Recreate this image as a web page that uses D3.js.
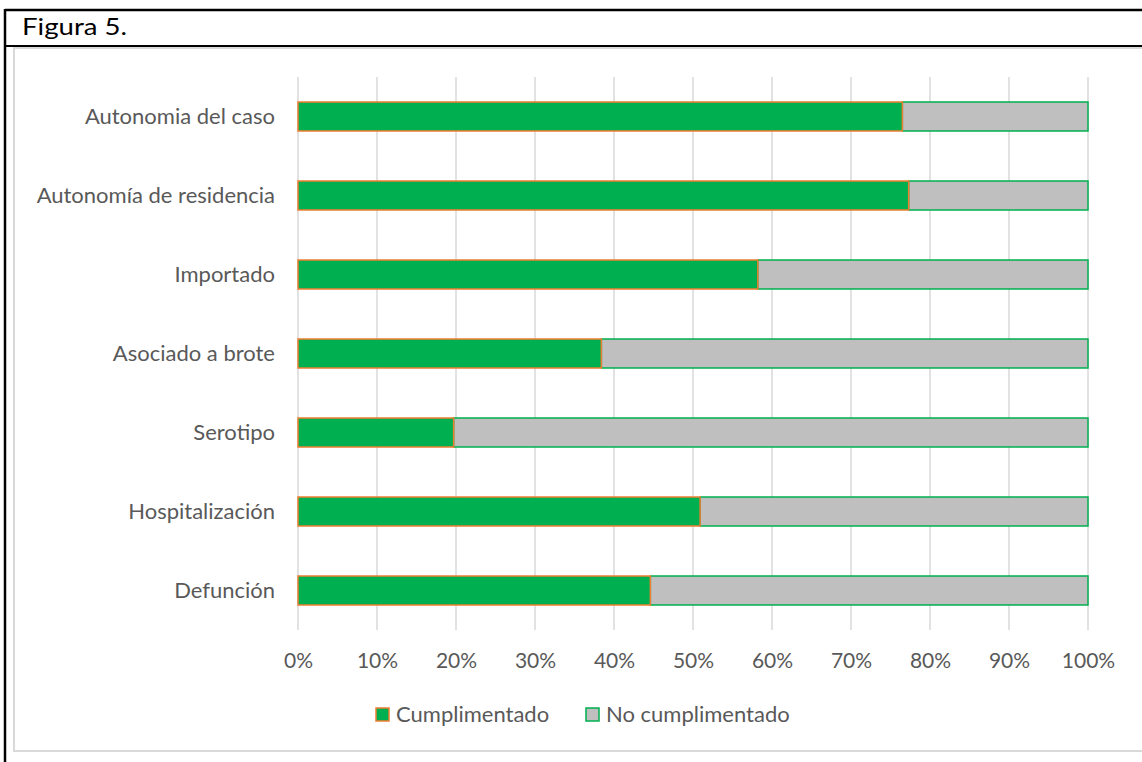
<!DOCTYPE html>
<html>
<head>
<meta charset="utf-8">
<script src="https://cdn.jsdelivr.net/npm/d3@7"></script>
<style>
  html, body { margin: 0; padding: 0; background: #fff; }
  svg { display: block; }
</style>
</head>
<body>
<svg id="chart" width="1142" height="762"></svg>
<script>
// Completeness of case-report variables (share of records filled in)
const categories = [
  "Autonomia del caso",
  "Autonomía de residencia",
  "Importado",
  "Asociado a brote",
  "Serotipo",
  "Hospitalización",
  "Defunción"
];
const cumplimentado = [76.5, 77.3, 58.2, 38.4, 19.7, 50.9, 44.6];
const noCumplimentado = cumplimentado.map(v => 100 - v);
const tickValues = [0, 10, 20, 30, 40, 50, 60, 70, 80, 90, 100];
const seriesNames = ["Cumplimentado", "No cumplimentado"];

const FONT = "Lato, 'Noto Sans', sans-serif";
const svg = d3.select("#chart");

// Frame: black outline with a header row, light gray chart area
svg.append("rect").attr("x", 14).attr("y", 48).attr("width", 1140).attr("height", 703)
  .attr("fill", "#fff").attr("stroke", "#D9D9D9").attr("stroke-width", 2);
svg.append("line").attr("x1", 5).attr("x2", 1142).attr("y1", 10).attr("y2", 10)
  .attr("stroke", "#000").attr("stroke-width", 2.5);
svg.append("line").attr("x1", 5).attr("x2", 1142).attr("y1", 46).attr("y2", 46)
  .attr("stroke", "#000").attr("stroke-width", 2);
svg.append("line").attr("x1", 5).attr("x2", 5).attr("y1", 9).attr("y2", 762)
  .attr("stroke", "#000").attr("stroke-width", 2.5);
svg.append("text").attr("x", 22).attr("y", 35).text("Figura 5.")
  .attr("font-family", FONT).attr("font-size", 24).attr("fill", "#000")
  .attr("textLength", 105).attr("lengthAdjust", "spacingAndGlyphs");

const x = d3.scaleLinear().domain([0, 100]).range([298, 1088]);
const y = d3.scaleBand().domain(categories).range([77, 630]).paddingInner(0.633).paddingOuter(0.3165);

// Vertical gridlines
svg.append("g").selectAll("line").data(tickValues).join("line")
  .attr("x1", d => x(d)).attr("x2", d => x(d))
  .attr("y1", 77).attr("y2", 630)
  .attr("stroke", "#D9D9D9").attr("stroke-width", 1.5);

// Stacked bars
const stack = categories.map((c, i) => ({ c, a: cumplimentado[i], b: noCumplimentado[i] }));
const g = svg.append("g");
g.selectAll("rect.nc").data(stack).join("rect").attr("class", "nc")
  .attr("x", d => x(d.a)).attr("width", d => x(d.a + d.b) - x(d.a))
  .attr("y", d => y(d.c)).attr("height", y.bandwidth())
  .attr("fill", "#BFBFBF").attr("stroke", "#00B050").attr("stroke-width", 1.5);
g.selectAll("rect.c").data(stack).join("rect").attr("class", "c")
  .attr("x", x(0)).attr("width", d => x(d.a) - x(0))
  .attr("y", d => y(d.c)).attr("height", y.bandwidth())
  .attr("fill", "#00B050").attr("stroke", "#ED7D31").attr("stroke-width", 1.5);

// Category axis
const yAxis = svg.append("g").attr("transform", `translate(${x(0)},0)`)
  .call(d3.axisLeft(y).tickSize(0).tickPadding(23));
yAxis.select(".domain").remove();
yAxis.selectAll("text").attr("font-family", FONT).attr("font-size", 22).attr("fill", "#595959");

// Percentage axis
const xAxis = svg.append("g").attr("transform", "translate(0,650)")
  .call(d3.axisBottom(x).tickValues(tickValues).tickFormat(d => d + "%").tickSize(0).tickPadding(3));
xAxis.select(".domain").remove();
xAxis.selectAll("text").attr("font-family", FONT).attr("font-size", 21).attr("fill", "#595959");

// Legend
const legend = [
  { name: seriesNames[0], fill: "#00B050", stroke: "#ED7D31", x: 376 },
  { name: seriesNames[1], fill: "#BFBFBF", stroke: "#00B050", x: 586 }
];
const lg = svg.append("g").selectAll("g").data(legend).join("g")
  .attr("transform", d => `translate(${d.x},708)`);
lg.append("rect").attr("width", 13).attr("height", 13)
  .attr("fill", d => d.fill).attr("stroke", d => d.stroke).attr("stroke-width", 1.5);
lg.append("text").attr("x", 20).attr("y", 14).text(d => d.name)
  .attr("font-family", FONT).attr("font-size", 22).attr("fill", "#595959");
</script>
</body>
</html>
